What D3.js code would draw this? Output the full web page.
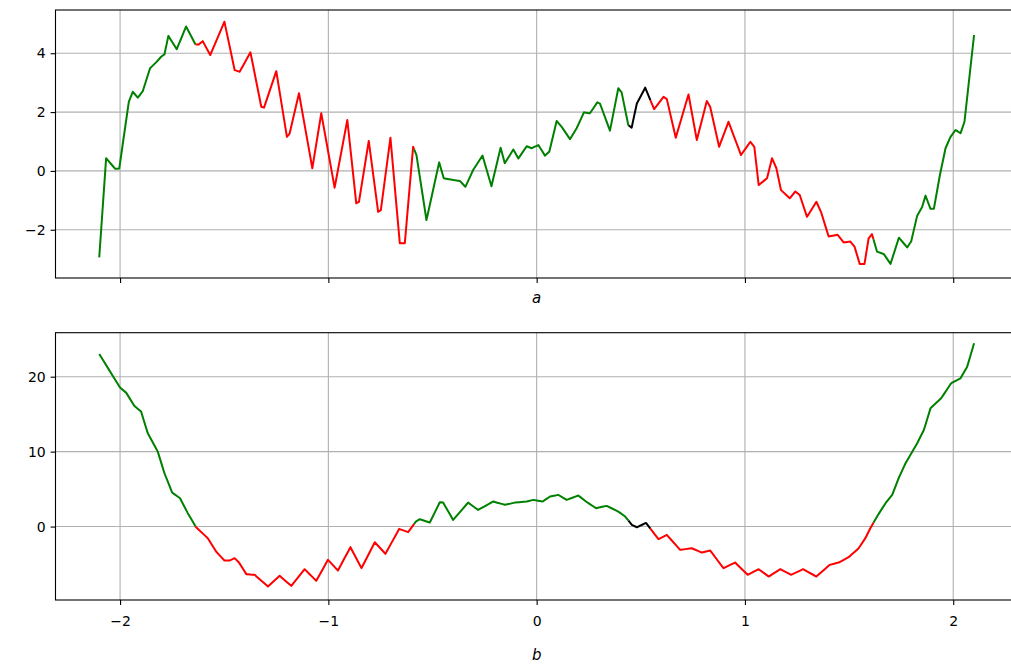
<!DOCTYPE html>
<html>
<head>
<meta charset="utf-8">
<script src="https://cdn.jsdelivr.net/npm/d3@7"></script>
<style>
  body { margin: 0; background: #fff; overflow: hidden; }
  svg { display: block; }
  text { font-family: "DejaVu Sans", sans-serif; }
</style>
</head>
<body>
<svg id="chart" width="1011" height="664"></svg>
<script>
// ---- data ----------------------------------------------------------
// series a (upper panel): x positions and values
const aX = [-2.100,-2.067,-2.023,-2.004,-1.958,-1.939,-1.915,-1.891,-1.856,-1.827,-1.803,-1.787,-1.768,-1.728,-1.683,-1.638,-1.622,-1.603,-1.567,-1.499,
  -1.450,-1.426,-1.374,-1.322,-1.309,-1.250,-1.199,-1.186,-1.141,-1.077,-1.034,-0.970,-0.909,-0.866,-0.853,-0.806,-0.761,-0.748,-0.702,-0.657,
  -0.633,-0.593,-0.577,-0.529,-0.468,-0.446,-0.398,-0.369,-0.342,-0.305,-0.260,-0.217,-0.173,-0.153,-0.112,-0.088,-0.048,-0.024,0.008,0.040,
  0.061,0.096,0.120,0.160,0.192,0.227,0.256,0.291,0.304,0.352,0.392,0.408,0.440,0.456,0.481,0.521,0.564,0.609,0.625,0.668,
  0.729,0.769,0.817,0.833,0.876,0.921,0.981,1.026,1.045,1.066,1.106,1.130,1.151,1.173,1.215,1.242,1.263,1.298,1.343,1.365,
  1.402,1.445,1.474,1.506,1.526,1.551,1.574,1.594,1.610,1.634,1.667,1.699,1.739,1.779,1.798,1.827,1.851,1.867,1.891,1.907,
  1.936,1.963,1.987,2.011,2.035,2.054,2.100];
const aY = [-2.94,0.43,0.07,0.08,2.35,2.69,2.49,2.71,3.49,3.69,3.88,3.96,4.59,4.14,4.91,4.30,4.30,4.41,3.94,5.07,
  3.43,3.37,4.03,2.18,2.15,3.39,1.16,1.27,2.64,0.09,1.96,-0.57,1.73,-1.10,-1.05,1.02,-1.39,-1.33,1.13,-2.46,
  -2.46,0.82,0.54,-1.67,0.29,-0.25,-0.31,-0.34,-0.54,0.03,0.52,-0.52,0.79,0.26,0.73,0.42,0.84,0.77,0.88,0.52,
  0.66,1.70,1.50,1.08,1.45,1.99,1.96,2.33,2.29,1.37,2.81,2.67,1.56,1.47,2.29,2.83,2.10,2.52,2.44,1.13,
  2.60,1.05,2.38,2.18,0.82,1.67,0.54,0.99,0.82,-0.48,-0.25,0.43,0.09,-0.65,-0.93,-0.70,-0.82,-1.56,-1.05,-1.39,
  -2.23,-2.17,-2.43,-2.40,-2.57,-3.16,-3.16,-2.29,-2.15,-2.74,-2.83,-3.16,-2.27,-2.60,-2.40,-1.52,-1.22,-0.84,-1.29,-1.29,
  -0.14,0.77,1.16,1.39,1.28,1.67,4.62];

// series b (lower panel): x positions and values
const bX = [-2.100,-2.001,-1.971,-1.931,-1.899,-1.867,-1.819,-1.787,-1.750,-1.712,-1.675,-1.635,-1.579,-1.539,-1.499,-1.475,-1.450,-1.429,-1.394,-1.354,
  -1.290,-1.234,-1.178,-1.114,-1.058,-1.002,-0.954,-0.894,-0.841,-0.777,-0.726,-0.660,-0.617,-0.580,-0.561,-0.513,-0.465,-0.449,-0.401,-0.329,
  -0.281,-0.209,-0.152,-0.104,-0.048,-0.016,0.029,0.064,0.104,0.144,0.200,0.237,0.285,0.336,0.392,0.425,0.457,0.481,0.525,0.585,
  0.625,0.689,0.745,0.793,0.833,0.897,0.953,1.013,1.066,1.114,1.170,1.221,1.279,1.343,1.407,1.450,1.498,1.546,1.578,1.602,
  1.642,1.675,1.707,1.738,1.771,1.827,1.859,1.891,1.942,1.990,2.035,2.067,2.100];
const bY = [23.03,18.58,17.87,16.09,15.34,12.45,10.00,7.12,4.54,3.78,1.79,-0.09,-1.55,-3.33,-4.53,-4.53,-4.22,-4.80,-6.35,-6.44,
  -8.00,-6.57,-7.91,-5.69,-7.24,-4.44,-5.86,-2.75,-5.55,-2.09,-3.64,-0.31,-0.75,0.67,0.98,0.54,3.25,3.20,0.89,3.20,
  2.22,3.34,2.90,3.20,3.34,3.56,3.34,4.00,4.23,3.56,4.14,3.34,2.45,2.76,2.00,1.34,0.23,-0.09,0.48,-1.69,
  -1.11,-3.11,-2.89,-3.47,-3.20,-5.55,-4.80,-6.44,-5.69,-6.67,-5.69,-6.44,-5.69,-6.67,-5.11,-4.80,-4.09,-2.89,-1.55,-0.22,
  1.69,3.12,4.23,6.45,8.45,11.12,12.89,15.79,17.12,19.12,19.79,21.34,24.45];

// tick values
const xTicks = [-2, -1, 0, 1, 2];
const aTicks = [-2, 0, 2, 4];
const bTicks = [0, 10, 20];

// ---- drawing -------------------------------------------------------
const svg = d3.select('#chart');
const FONT = 14;
const TICK = 4.9;
const LW = 2;
const colors = { pos: '#008000', mid: '#000000', neg: '#ff0000' };

const x = d3.scaleLinear().domain([-2.31, 2.31]).range([55.5, 1017.8]);

// segment colour follows b at that position: negative red,
// a thin band just above zero black, the rest green
function bAt(v) {
  const i = d3.bisectRight(bX, v);
  if (i <= 0) return bY[0];
  if (i >= bX.length) return bY[bY.length - 1];
  const t = (v - bX[i - 1]) / (bX[i] - bX[i - 1]);
  return bY[i - 1] + t * (bY[i] - bY[i - 1]);
}
function colorOf(v) {
  return v < 0 ? colors.neg : (v < 0.5 ? colors.mid : colors.pos);
}

// split a polyline into runs of equal colour on a fine x grid
function colourRuns(xs, ys) {
  const step = 0.021, x0g = -2.1;
  const pts = [];
  for (let i = 0; i < xs.length - 1; i++) {
    const x0 = xs[i], x1 = xs[i + 1], y0 = ys[i], y1 = ys[i + 1];
    pts.push([x0, y0]);
    for (let k = Math.floor((x0 - x0g) / step) + 1; x0g + k * step < x1; k++) {
      const gx = x0g + k * step;
      if (gx <= x0) continue;
      const t = (gx - x0) / (x1 - x0);
      pts.push([gx, y0 + t * (y1 - y0)]);
    }
  }
  pts.push([xs[xs.length - 1], ys[ys.length - 1]]);
  const runs = [];
  let cur = null;
  for (let i = 0; i < pts.length - 1; i++) {
    const mid = (pts[i][0] + pts[i + 1][0]) / 2;
    const cell = x0g + (Math.floor((mid - x0g) / step) + 0.5) * step;
    const c = colorOf(bAt(cell));
    if (!cur || cur.c !== c) { cur = { c, p: [pts[i]] }; runs.push(cur); }
    cur.p.push(pts[i + 1]);
  }
  return runs;
}

const panels = [
  { xs: aX, ys: aY, domain: [-3.64, 5.47], top: 10, bottom: 278, ticks: aTicks,
    name: 'a', tickLabels: false, nameY: 303 },
  { xs: bX, ys: bY, domain: [-9.8, 25.87], top: 332.7, bottom: 600, ticks: bTicks,
    name: 'b', tickLabels: true, nameY: 660 }
];

panels.forEach(p => {
  const y = d3.scaleLinear().domain(p.domain).range([p.bottom, p.top]);
  const g = svg.append('g');

  // grid
  const grid = g.append('g').attr('stroke', '#b0b0b0').attr('stroke-width', 1.1);
  xTicks.forEach(t => grid.append('line')
    .attr('x1', x(t)).attr('x2', x(t)).attr('y1', p.top).attr('y2', p.bottom));
  p.ticks.forEach(t => grid.append('line')
    .attr('x1', x.range()[0]).attr('x2', x.range()[1]).attr('y1', y(t)).attr('y2', y(t)));

  // coloured line
  const line = d3.line().x(d => x(d[0])).y(d => y(d[1]));
  colourRuns(p.xs, p.ys).forEach(r => {
    g.append('path')
      .attr('d', line(r.p))
      .attr('fill', 'none')
      .attr('stroke', r.c)
      .attr('stroke-width', LW)
      .attr('stroke-linejoin', 'round')
      .attr('stroke-linecap', 'butt');
  });

  // spines
  g.append('rect')
    .attr('x', x.range()[0]).attr('y', p.top)
    .attr('width', x.range()[1] - x.range()[0]).attr('height', p.bottom - p.top)
    .attr('fill', 'none').attr('stroke', '#000').attr('stroke-width', 1.1);

  // x axis
  const xa = d3.axisBottom(x).tickValues(xTicks).tickSize(TICK).tickPadding(8)
    .tickSizeOuter(0)
    .tickFormat(p.tickLabels ? d3.format('d') : () => '');
  const gx = g.append('g').attr('transform', `translate(0,${p.bottom})`).call(xa);
  gx.select('.domain').remove();
  gx.selectAll('line').attr('stroke', '#000').attr('stroke-width', 1.1);
  gx.selectAll('text').attr('font-size', FONT).attr('font-family', '"DejaVu Sans", sans-serif')
    .attr('fill', '#000').attr('dy', '0.95em');

  // y axis
  const ya = d3.axisLeft(y).tickValues(p.ticks).tickSize(TICK).tickPadding(4.9)
    .tickSizeOuter(0).tickFormat(d3.format('d'));
  const gy = g.append('g').attr('transform', `translate(${x.range()[0]},0)`).call(ya);
  gy.select('.domain').remove();
  gy.selectAll('line').attr('stroke', '#000').attr('stroke-width', 1.1);
  gy.selectAll('text').attr('font-size', FONT).attr('font-family', '"DejaVu Sans", sans-serif')
    .attr('fill', '#000');

  // axis name
  g.append('text')
    .attr('x', x(0)).attr('y', p.nameY)
    .attr('text-anchor', 'middle')
    .attr('font-size', FONT + 1)
    .attr('font-style', 'italic')
    .attr('fill', '#000')
    .text(p.name);
});
</script>
</body>
</html>
